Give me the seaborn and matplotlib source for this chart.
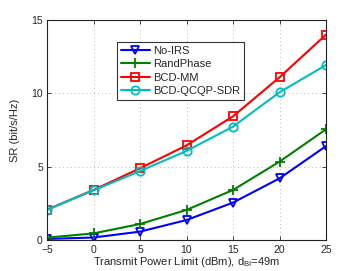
import pandas as pd
import seaborn as sns
import numpy as np
import matplotlib
matplotlib.use('Agg')
import matplotlib.pyplot as plt

power = [-5, 0, 5, 10, 15, 20, 25]
no_irs = [0.07, 0.17, 0.57, 1.36, 2.55, 4.2, 6.4]
rand_phase = [0.16, 0.45, 1.09, 2.05, 3.41, 5.34, 7.55]
bcd_mm = [2.07, 3.41, 4.89, 6.45, 8.43, 11.09, 14.0]
bcd_qcqp = [2.05, 3.38, 4.7, 6.07, 7.73, 10.07, 11.93]

series = ['No-IRS', 'RandPhase', 'BCD-MM', 'BCD-QCQP-SDR']
colors = ['#0000ff', '#008000', '#ff0000', '#00bfbf']
markers = ['v', '+', 's', 'o']

sns.set_style('ticks')
plt.rcParams['font.family'] = ['Liberation Sans', 'DejaVu Sans']
plt.rcParams['mathtext.fontset'] = 'custom'
plt.rcParams['mathtext.rm'] = 'Liberation Sans'

fig = plt.figure(figsize=(3.6, 2.71), dpi=100)
ax = fig.add_axes([47 / 360, 31 / 271, 279 / 360, 220 / 271])

for name, vals, c, m in zip(series, [no_irs, rand_phase, bcd_mm, bcd_qcqp], colors, markers):
    sns.lineplot(x=power, y=vals, ax=ax, color=c, marker=m, markersize=6 if m != '+' else 7,
                 markerfacecolor='none', markeredgecolor=c, markeredgewidth=1.3,
                 linewidth=1.5, label=name)

ax.set_xlim(-5, 25)
ax.set_ylim(0, 15)
ax.set_xticks([-5, 0, 5, 10, 15, 20, 25])
ax.set_yticks([0, 5, 10, 15])
ax.grid(True, linestyle=(0, (1, 3)), color='#b8b8b8', linewidth=0.7)
ax.tick_params(direction='in', labelsize=7.5, length=3, top=True, right=True, width=0.6)
ax.tick_params(axis='x', pad=3.5)
ax.tick_params(axis='y', pad=3)
for sp in ax.spines.values():
    sp.set_visible(True)
    sp.set_linewidth(0.8)
    sp.set_color('#222222')

ax.set_xlabel('Transmit Power Limit (dBm), d$_{\\mathregular{BI}}$=49m', fontsize=8, labelpad=0)
ax.set_ylabel('SR (bit/s/Hz)', fontsize=8, labelpad=8)

leg = ax.legend(loc='upper left', bbox_to_anchor=(70 / 279, 198 / 220), borderaxespad=0,
                fontsize=8, frameon=True, fancybox=False, edgecolor='black',
                handlelength=2.6, borderpad=0.35, labelspacing=0.3, handletextpad=0.3)
leg.get_frame().set_linewidth(0.8)

fig.savefig('out.png', dpi=100)
